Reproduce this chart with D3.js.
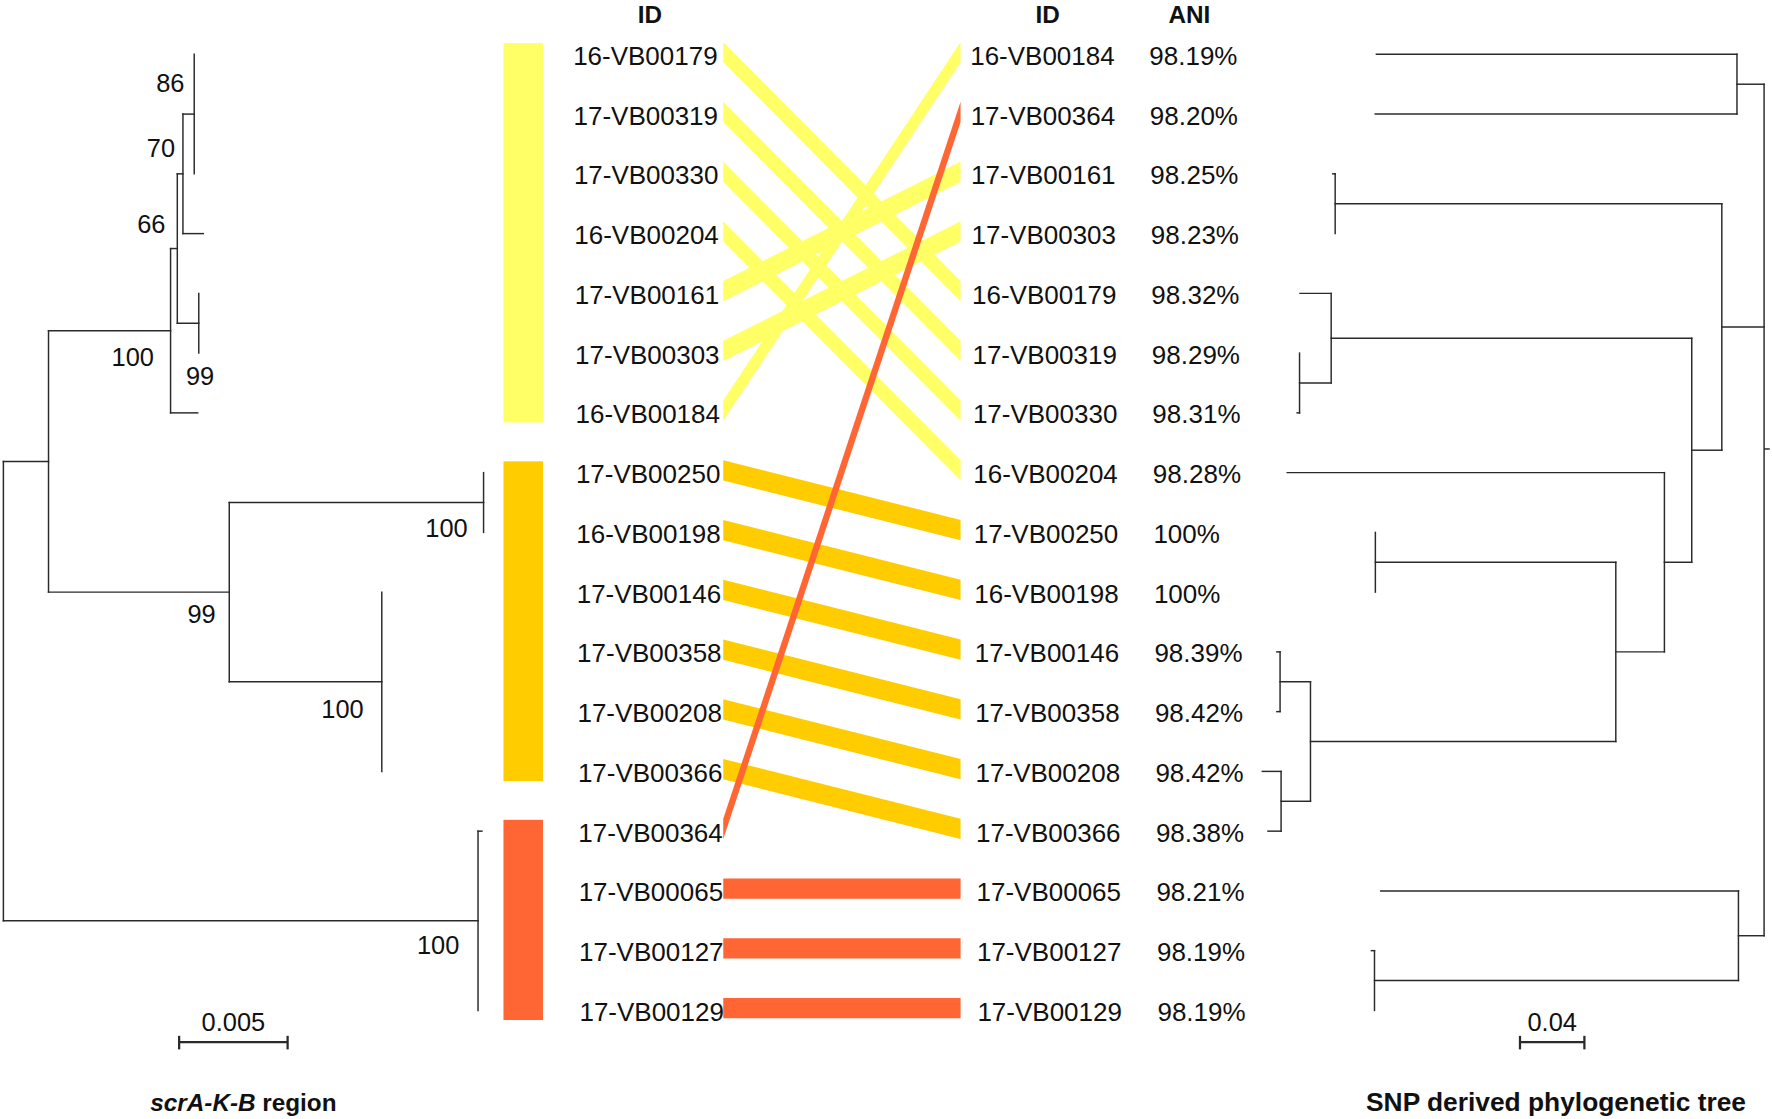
<!DOCTYPE html>
<html><head><meta charset="utf-8">
<script src="https://cdn.jsdelivr.net/npm/d3@7"></script>
<style>html,body{margin:0;padding:0;background:#fff;} svg{display:block;font-family:"Liberation Sans",Arial,sans-serif;}</style>
</head><body>
<svg id="chart" width="1772" height="1119" viewBox="0 0 1568 990"></svg>
<script>
// ---------------- DATA ----------------
const leftIds = ["16-VB00179","17-VB00319","17-VB00330","16-VB00204","17-VB00161","17-VB00303","16-VB00184",
  "17-VB00250","16-VB00198","17-VB00146","17-VB00358","17-VB00208","17-VB00366",
  "17-VB00364","17-VB00065","17-VB00127","17-VB00129"];
const leftGroups = [0,0,0,0,0,0,0,1,1,1,1,1,1,2,2,2,2];
const rightIds = ["16-VB00184","17-VB00364","17-VB00161","17-VB00303","16-VB00179","17-VB00319","17-VB00330",
  "16-VB00204","17-VB00250","16-VB00198","17-VB00146","17-VB00358","17-VB00208","17-VB00366",
  "17-VB00065","17-VB00127","17-VB00129"];
const aniValues = ["98.19%","98.20%","98.25%","98.23%","98.32%","98.29%","98.31%","98.28%","100%","100%",
  "98.39%","98.42%","98.42%","98.38%","98.21%","98.19%","98.19%"];
const groupColors = ["#FFFF66","#FFCC00","#FF6633"];
// scrA-K-B region tree (branch lengths, bootstrap as node labels)
const leftTreeNewick = `(((((( 16-VB00179:0,17-VB00319:0,17-VB00330:0)86:0.00052,16-VB00204:0.00094)70:0.00026,
  (17-VB00161:0,17-VB00303:0)99:0.00099)66:0.00031,16-VB00184:0.00125)100:0.005625,
  ((17-VB00250:0,16-VB00198:0)100:0.01172,(17-VB00146:0,17-VB00358:0,17-VB00208:0,17-VB00366:0)100:0.00703)99:0.00833):0.00208,
  (17-VB00364:0.00018,17-VB00065:0,17-VB00127:0,17-VB00129:0)100:0.021875);`;
// SNP derived tree
const rightTreeNewick = `((16-VB00184:0.2239,17-VB00364:0.2246):0.01684,
  ((17-VB00161:0.0015,17-VB00303:0):0.2401,
   ((16-VB00179:0.01937,(17-VB00319:0,17-VB00330:0.0015):0.01965):0.2239,
    (16-VB00204:0.2342,((17-VB00250:0,16-VB00198:0):0.1493,
      ((17-VB00146:0.002,17-VB00358:0.002):0.01888,(17-VB00208:0.01165,17-VB00366:0.00814):0.01825):0.1896):0.03018):0.01698):0.01867):0.02625,
  (17-VB00065:0.2221,(17-VB00127:0.0019,17-VB00129:0):0.226):0.01593);`;
const headers = ["ID","ID","ANI"];
const scaleBarValues = [0.005, 0.04];
const scaleBarLabels = ["0.005","0.04"];

// ---------------- LAYOUT ----------------
const svg = d3.select("#chart");
const FS = 23;
const lineColor = "#2a2a2a";

function parseNewick(str) {
  const s = str.replace(/\s+/g, "");
  let i = 0;
  function node() {
    const n = {children: []};
    if (s[i] === "(") {
      i++;
      n.children.push(node());
      while (s[i] === ",") { i++; n.children.push(node()); }
      i++;
    }
    let name = "";
    while (i < s.length && !",():;".includes(s[i])) name += s[i++];
    n.name = name; n.length = 0;
    if (s[i] === ":") {
      i++; let num = "";
      while (i < s.length && !",();".includes(s[i])) num += s[i++];
      n.length = +num;
    }
    if (!n.children.length) delete n.children;
    return n;
  }
  return node();
}

const yRow = d3.scalePoint().domain(d3.range(leftIds.length)).range([48, 894]);

function layoutTree(newick, ids) {
  const root = d3.hierarchy(parseNewick(newick));
  root.eachBefore(n => { n.dist = n.parent ? n.parent.dist + n.data.length : 0; });
  root.eachAfter(n => {
    if (n.children) n.yy = d3.mean(n.children, c => c.yy);
    else n.yy = yRow(ids.indexOf(n.data.name));
  });
  return root;
}

function drawTree(root, x, g) {
  const segs = [];
  root.each(n => {
    if (n.children) {
      const ys = n.children.map(c => c.yy);
      segs.push([x(n.dist), d3.min(ys), x(n.dist), d3.max(ys)]);
    }
    if (n.parent && n.data.length > 0) segs.push([x(n.parent.dist), n.yy, x(n.dist), n.yy]);
  });
  g.selectAll("line.br").data(segs).join("line").attr("class", "br")
    .attr("x1", d => d[0]).attr("y1", d => d[1]).attr("x2", d => d[2]).attr("y2", d => d[3])
    .attr("stroke", lineColor).attr("stroke-width", 1.3).attr("stroke-linecap", "square");
}

// left tree
const xL = d3.scaleLinear().domain([0, scaleBarValues[0]]).range([3, 99]);
const leftRoot = layoutTree(leftTreeNewick, leftIds);
const gL = svg.append("g");
drawTree(leftRoot, xL, gL);

// bootstrap labels, pre-order of labelled nodes: offsets (label right edge, label centre) from node
const bootOffsets = [[-14.7, 23.4], [-10.5, -22], [-7, -23], [-8.7, -28], [13.6, 47], [-12, 19], [-14, 22.4], [-16, 24], [-16.6, 21]];
const bootNodes = [];
leftRoot.eachBefore(n => { if (n.children && n.data.name) bootNodes.push(n); });
gL.selectAll("text.boot").data(bootNodes).join("text").attr("class", "boot")
  .attr("x", (d, k) => xL(d.dist) + bootOffsets[k][0])
  .attr("y", (d, k) => d.yy + bootOffsets[k][1] + 0.358 * 22.5)
  .attr("text-anchor", "end").attr("font-size", 22.5).attr("fill", "#111")
  .text(d => d.data.name);

// right tree
const xR = d3.scaleLinear().domain([0, scaleBarValues[1]]).range([1561, 1561 - 57]);
const rightRoot = layoutTree(rightTreeNewick, rightIds);
const gR = svg.append("g");
drawTree(rightRoot, xR, gR);
gR.append("line").attr("x1", xR(0)).attr("x2", xR(0) + 5).attr("y1", rightRoot.yy).attr("y2", rightRoot.yy)
  .attr("stroke", lineColor).attr("stroke-width", 1.3);

// group colour bars
const groups = d3.groups(d3.range(leftIds.length), i => leftGroups[i]);
svg.append("g").selectAll("rect").data(groups).join("rect")
  .attr("x", 445.5).attr("width", 35)
  .attr("y", d => yRow(d[1][0]) - 10)
  .attr("height", d => yRow(d[1][d[1].length - 1]) + 8.5 - (yRow(d[1][0]) - 10))
  .attr("fill", d => groupColors[d[0]]);

// connectors
const xA = 640, xB = 850, half = 9, off = -2;
const links = leftIds.map((id, i) => ({i, j: rightIds.indexOf(id), g: leftGroups[i]}))
  .sort((a, b) => a.g - b.g);
svg.append("g").selectAll("polygon").data(links).join("polygon")
  .attr("points", d => [[xA, yRow(d.i) + off - half], [xB, yRow(d.j) + off - half],
                        [xB, yRow(d.j) + off + half], [xA, yRow(d.i) + off + half]].join(" "))
  .attr("fill", d => groupColors[d.g]);

// labels
const gT = svg.append("g").attr("font-size", FS).attr("fill", "#111");
gT.selectAll("text.lid").data(leftIds).join("text").attr("class", "lid")
  .attr("x", (d, i) => 635 + i * 0.35).attr("y", (d, i) => yRow(i) + 1 + 0.358 * FS)
  .attr("text-anchor", "end").text(d => d);
gT.selectAll("text.rid").data(rightIds).join("text").attr("class", "rid")
  .attr("x", (d, i) => 858.5 + i * 0.4).attr("y", (d, i) => yRow(i) + 1 + 0.358 * FS)
  .text(d => d);
gT.selectAll("text.ani").data(aniValues).join("text").attr("class", "ani")
  .attr("x", (d, i) => 1017 + i * 0.45).attr("y", (d, i) => yRow(i) + 1 + 0.358 * FS)
  .text(d => d);

// headers
const headerX = [575, 927, 1052.5];
const HFS = 21.5;
svg.append("g").selectAll("text").data(headers).join("text")
  .attr("x", (d, i) => headerX[i]).attr("y", 20.5)
  .attr("text-anchor", "middle").attr("font-weight", "bold").attr("font-size", HFS).attr("fill", "#111")
  .text(d => d);

// scale bars
const bars = [
  {x0: 158.5, len: xL(scaleBarValues[0]) - xL(0), label: scaleBarLabels[0]},
  {x0: 1345, len: xR(0) - xR(scaleBarValues[1]), label: scaleBarLabels[1]}
];
const gS = svg.append("g");
bars.forEach(b => {
  gS.append("line").attr("x1", b.x0).attr("x2", b.x0 + b.len).attr("y1", 922).attr("y2", 922)
    .attr("stroke", lineColor).attr("stroke-width", 2);
  [b.x0, b.x0 + b.len].forEach(x => gS.append("line").attr("x1", x).attr("x2", x).attr("y1", 916.5).attr("y2", 928.5)
    .attr("stroke", lineColor).attr("stroke-width", 2));
  gS.append("text").attr("x", b.x0 + b.len / 2).attr("y", 904.5 + 0.358 * 22.5).attr("text-anchor", "middle")
    .attr("font-size", 22.5).attr("fill", "#111").text(b.label);
});

// titles
const t1 = svg.append("text").attr("x", 133).attr("y", 975 + 0.358 * 21.5).attr("font-size", 21.5)
  .attr("font-weight", "bold").attr("fill", "#111");
t1.append("tspan").attr("font-style", "italic").text("scrA-K-B");
t1.append("tspan").text(" region");
svg.append("text").attr("x", 1545).attr("y", 975 + 0.358 * 23.3).attr("font-size", 23.3)
  .attr("text-anchor", "end").attr("font-weight", "bold").attr("fill", "#111").text("SNP derived phylogenetic tree");
</script>
</body></html>
